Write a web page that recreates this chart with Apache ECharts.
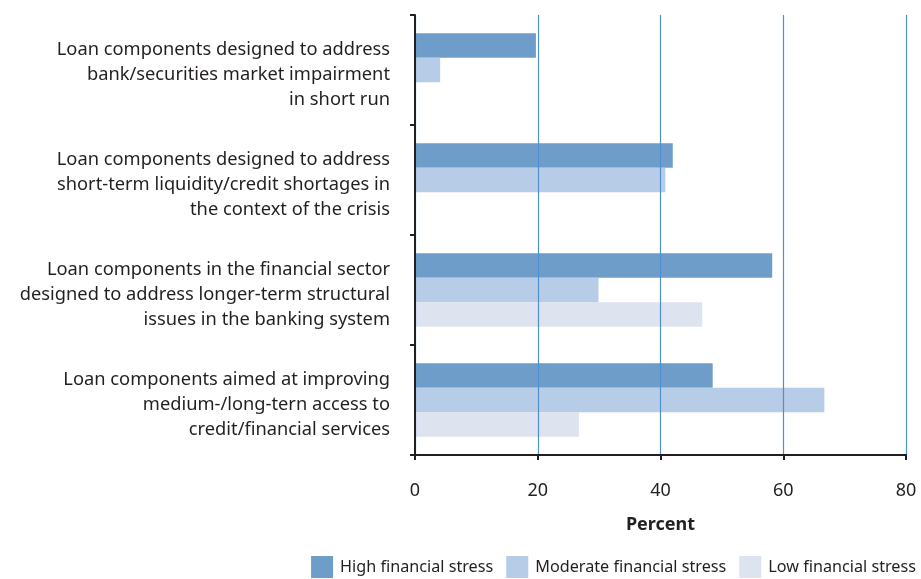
<!DOCTYPE html>
<html>
<head>
<meta charset="utf-8">
<script src="https://cdn.jsdelivr.net/npm/echarts@6/dist/echarts.min.js"></script>
<style>html,body{margin:0;padding:0;background:#fff;}#c{width:921px;height:579px;}</style>
</head>
<body>
<div id="c"></div>
<script>
const categories = [
  "Loan components designed to address\nbank/securities market impairment\nin short run",
  "Loan components designed to address\nshort-term liquidity/credit shortages in\nthe context of the crisis",
  "Loan components in the financial sector\ndesigned to address longer-term structural\nissues in the banking system",
  "Loan components aimed at improving\nmedium-/long-tern access to\ncredit/financial services"
];
const seriesNames = ["High financial stress", "Moderate financial stress", "Low financial stress"];
const highStress = [19.7, 42.0, 58.2, 48.5];
const moderateStress = [4.1, 40.8, 29.9, 66.7];
const lowStress = [0, 0, 46.8, 26.7];
const xTicks = [0, 20, 40, 60, 80];
const xAxisName = "Percent";

const colors = ["#6f9dca", "#b7cce6", "#dde3ef"];
const font = "Noto Sans";
const chart = echarts.init(document.getElementById('c'), null, {renderer: 'canvas'});
chart.setOption({
  animation: false,
  textStyle: {fontFamily: font},
  grid: {left: 415, right: 15, top: 15, bottom: 124, containLabel: false},
  legend: {
    top: 556, right: 5, padding: 0,
    itemWidth: 22, itemHeight: 22, itemGap: 13,
    icon: 'rect',
    textStyle: {fontFamily: font, fontSize: 16.2, color: '#231f20', padding: [0, 0, 0, 2]},
    data: seriesNames
  },
  xAxis: {
    type: 'value', min: xTicks[0], max: xTicks[xTicks.length - 1], interval: xTicks[1] - xTicks[0],
    z: 3,
    name: xAxisName, nameLocation: 'middle', nameGap: 61,
    nameTextStyle: {fontFamily: font, fontSize: 18, fontWeight: 'bold', color: '#231f20'},
    axisLine: {show: true, lineStyle: {color: '#231f20', width: 2}},
    axisTick: {show: true, length: 5, lineStyle: {color: '#231f20', width: 2}},
    axisLabel: {fontFamily: font, fontSize: 18, color: '#231f20', margin: 27},
    splitLine: {show: true, lineStyle: {color: '#4f8fcf', width: 1.2}}
  },
  yAxis: {
    type: 'category', data: categories, inverse: true,
    z: 3,
    axisLine: {show: true, lineStyle: {color: '#231f20', width: 2}},
    axisTick: {show: true, length: 5, lineStyle: {color: '#231f20', width: 2}},
    axisLabel: {
      fontFamily: font, fontSize: 18.3, color: '#231f20', margin: 25, align: 'right', lineHeight: 25,
      formatter: function (v) { return '{s| }\n' + v; },
      rich: {s: {fontSize: 1, lineHeight: 9}}
    }
  },
  series: [
    {name: seriesNames[0], type: 'bar', data: highStress, itemStyle: {color: colors[0]}, barGap: '0%', barCategoryGap: '33%'},
    {name: seriesNames[1], type: 'bar', data: moderateStress, itemStyle: {color: colors[1]}, barGap: '0%', barCategoryGap: '33%'},
    {name: seriesNames[2], type: 'bar', data: lowStress, itemStyle: {color: colors[2]}, barGap: '0%', barCategoryGap: '33%'}
  ]
});
</script>
</body>
</html>
